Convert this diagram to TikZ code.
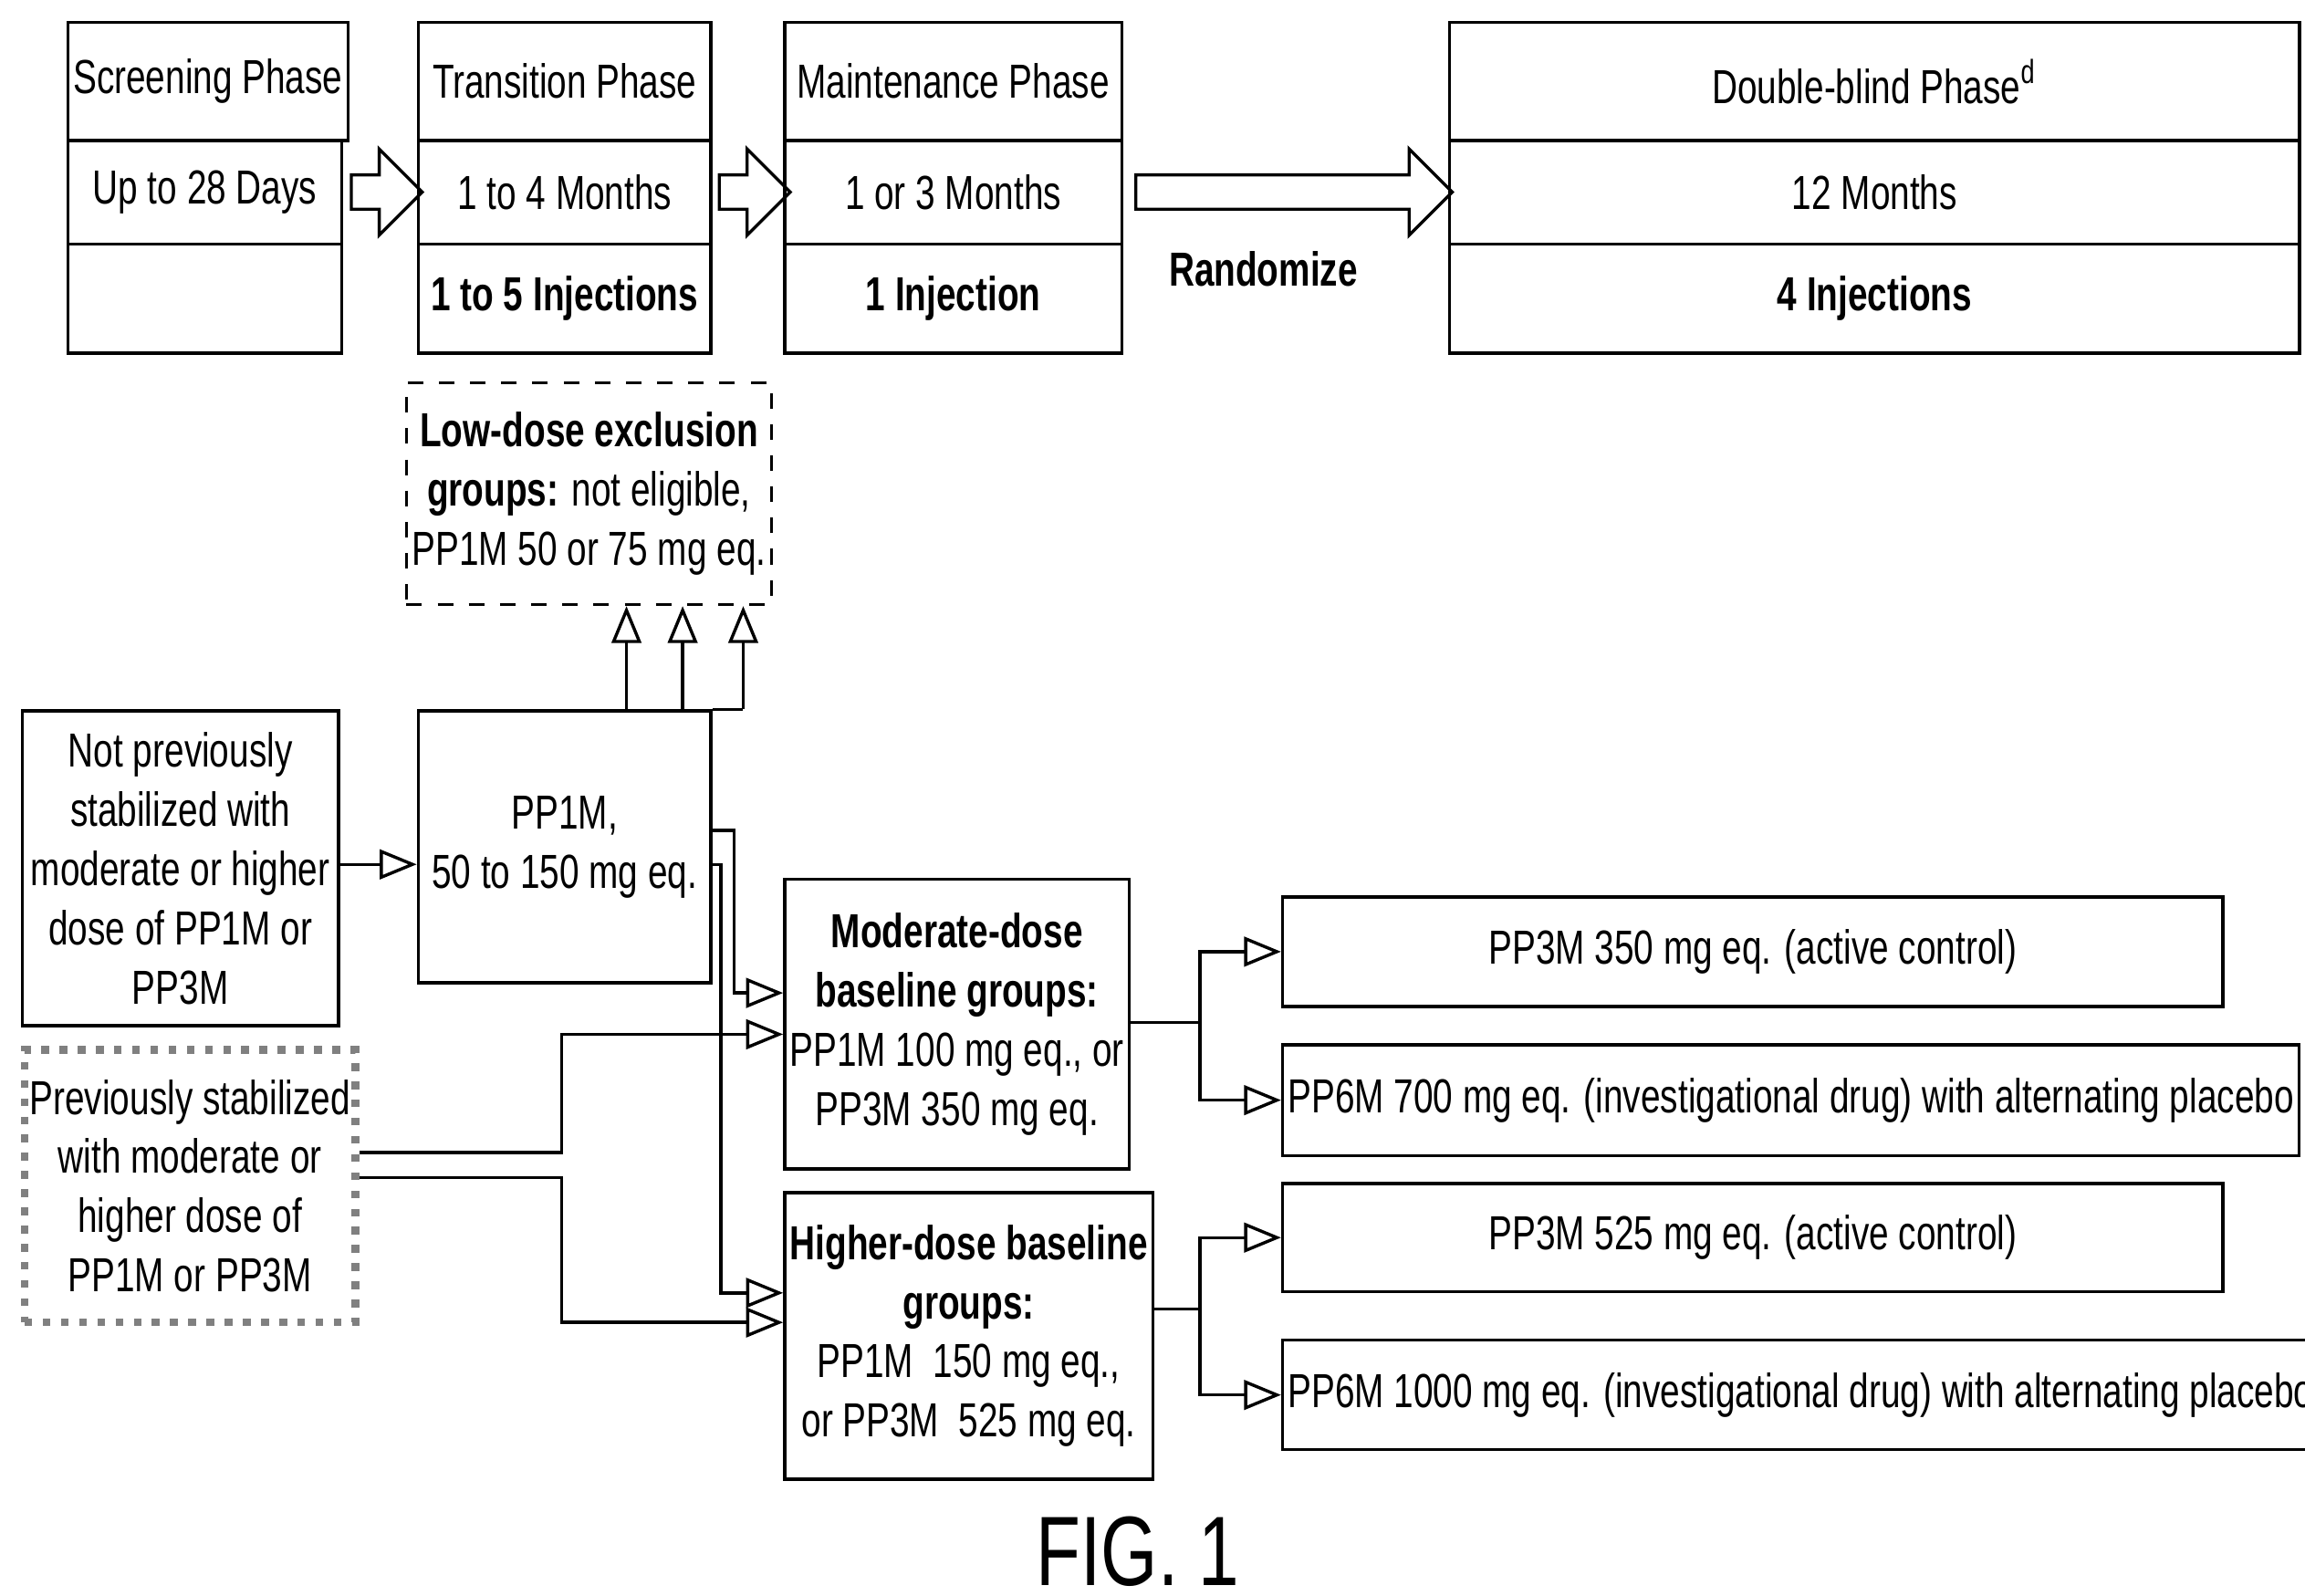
\documentclass[tikz,border=0pt]{standalone}
\usepackage{fontspec}
\setmainfont{Liberation Sans}[FakeStretch=0.74]
\usetikzlibrary{arrows.meta,positioning,shapes.arrows}

\begin{document}
\begin{tikzpicture}[x=0.01cm,y=-0.01cm,
    font=\fontsize{9.2}{11.4}\selectfont,
    box/.style={draw, line width=0.6pt, align=center, inner sep=1pt},
    cell/.style={box, anchor=north west},
    hollow/.style={draw, line width=0.6pt, single arrow, single arrow head extend=5pt, minimum height=#1, inner sep=3pt},
    link/.style={line width=0.6pt, -{Triangle[open,length=2.5mm,width=2mm]}},
    wire/.style={line width=0.6pt}
]
\useasboundingbox (0,0) rectangle (1560,1080);

% Phase table
\newcommand{\phase}[6]{%
  \node[cell, minimum width=#2cm, minimum height=0.8cm] (#1a) at (#3,14) {#4};
  \node[cell, minimum width=#2cm, minimum height=0.7cm] (#1b) at (#3,94) {#5};
  \node[cell, minimum width=#2cm, minimum height=0.74cm] (#1c) at (#3,164) {#6};}
\phase{scr}{1.85}{45}{Screening Phase}{Up to 28 Days}{}
\phase{tra}{1.98}{282}{Transition Phase}{1 to 4 Months}{\textbf{1 to 5 Injections}}
\phase{mai}{2.28}{530}{Maintenance Phase}{1 or 3 Months}{\textbf{1 Injection}}
\phase{dbl}{5.75}{980}{Double-blind Phase\textsuperscript{d}}{12 Months}{\textbf{4 Injections}}

% Hollow arrows between phases
\node[hollow=0.48cm] (h1) at (256,130) {};
\node[hollow=0.48cm] (h2) at (505,130) {};
\node[hollow=2.14cm] (h3) at (870,130) {};
\node[font=\fontsize{9.2}{11.4}\selectfont\bfseries] (rand) at (855,182) {Randomize};

% Groups
\node[box, dashed, minimum width=2.47cm, minimum height=1.5cm, anchor=north west] (low) at (274,258)
  {\textbf{Low-dose exclusion}\\\textbf{groups:} not eligible,\\PP1M 50 or 75 mg eq.};
\node[box, minimum width=1.98cm, minimum height=1.84cm, anchor=north west] (pp1m) at (282,480)
  {PP1M,\\50 to 150 mg eq.};
\node[box, minimum width=2.14cm, minimum height=2.13cm, anchor=north west] (notprev) at (14,480)
  {Not previously\\stabilized with\\moderate or higher\\dose of PP1M or\\PP3M};
\node[box, draw=gray, line width=1.5pt, dotted, minimum width=2.16cm, minimum height=1.84cm, anchor=north west] (prev) at (14,708)
  {Previously stabilized\\with moderate or\\higher dose of\\PP1M or PP3M};
\node[box, minimum width=2.27cm, minimum height=1.96cm, anchor=north west] (mod) at (530,594)
  {\textbf{Moderate-dose}\\\textbf{baseline groups:}\\PP1M 100 mg eq., or\\PP3M 350 mg eq.};
\node[box, minimum width=2.27cm, minimum height=1.94cm, anchor=north west] (high) at (530,806)
  {\textbf{Higher-dose baseline}\\\textbf{groups:}\\PP1M~~150 mg eq.,\\or PP3M~~525 mg eq.};

% Treatment arms
\node[box, minimum width=6.36cm, minimum height=0.74cm, anchor=north west] (arm1) at (867,606) {PP3M 350 mg eq. (active control)};
\node[box, minimum width=6.36cm, minimum height=0.75cm, anchor=north west] (arm2) at (867,706) {PP6M 700 mg eq. (investigational drug) with alternating placebo};
\node[box, minimum width=6.36cm, minimum height=0.73cm, anchor=north west] (arm3) at (867,800) {PP3M 525 mg eq. (active control)};
\node[box, minimum width=6.36cm, minimum height=0.74cm, anchor=north west] (arm4) at (867,906) {PP6M 1000 mg eq. (investigational drug) with alternating placebo};

% Connectors
\draw[link] (notprev.east |- 0,585) -- (pp1m.west |- 0,585);
\foreach \x in {424,462,503}
  \draw[link] (\x,480) -- (low.south -| \x,0);
\draw[wire] (pp1m.north east) -- (503,480);
\draw[link] (pp1m.east |- 0,562) -- (497,562) -- (497,672) -- (mod.west |- 0,672);
\draw[link] (pp1m.east |- 0,585) -- (488,585) -- (488,875) -- (high.west |- 0,875);
\draw[link] (prev.east |- 0,780) -- (380,780) -- (380,700) -- (mod.west |- 0,700);
\draw[link] (prev.east |- 0,797) -- (380,797) -- (380,895) -- (high.west |- 0,895);
\draw[wire] (mod.east |- 0,692) -- (812,692);
\draw[link] (812,692) |- (arm1.west);
\draw[link] (812,692) |- (arm2.west);
\draw[wire] (high.east |- 0,886) -- (812,886);
\draw[link] (812,886) |- (arm3.west);
\draw[link] (812,886) |- (arm4.west);

\node[font=\fontsize{19}{21}\selectfont] (fig) at (770,1050) {FIG. 1};
\end{tikzpicture}
\end{document}
